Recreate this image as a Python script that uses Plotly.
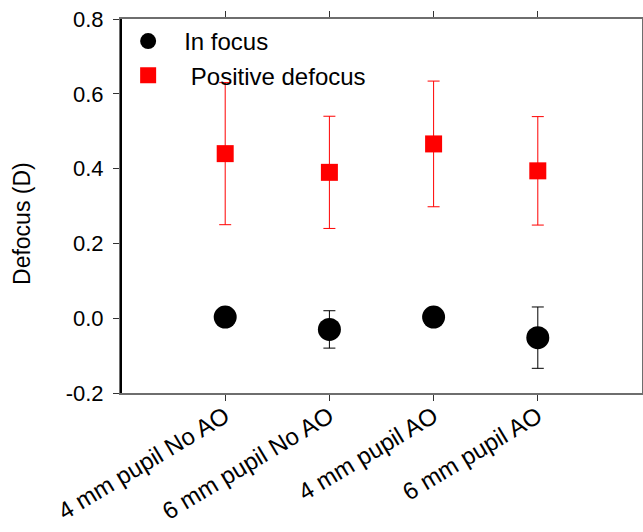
import plotly.graph_objects as go

categories = ["4 mm pupil No AO", "6 mm pupil No AO", "4 mm pupil AO", "6 mm pupil AO"]
x_pos = [1, 2, 3, 4]

in_focus = [0.003, -0.03, 0.003, -0.052]
in_focus_err = [0.0, 0.05, 0.0, 0.082]

pos_defocus = [0.44, 0.39, 0.466, 0.394]
pos_defocus_err = [0.19, 0.15, 0.168, 0.145]

y_ticks = [-0.2, 0.0, 0.2, 0.4, 0.6, 0.8]
y_tick_labels = ["-0.2", "0.0", "0.2", "0.4", "0.6", "0.8"]

FONT = "Liberation Sans, Arial, sans-serif"

fig = go.Figure()
fig.add_trace(go.Scatter(
    x=x_pos, y=in_focus, mode="markers", name="In focus",
    marker=dict(symbol="circle", size=23, color="black"),
    error_y=dict(type="data", array=in_focus_err, visible=True, color="black", thickness=1, width=6),
))
fig.add_trace(go.Scatter(
    x=x_pos, y=pos_defocus, mode="markers", name=" Positive defocus",
    marker=dict(symbol="square", size=17, color="red"),
    error_y=dict(type="data", array=pos_defocus_err, visible=True, color="red", thickness=1, width=6),
))

fig.update_layout(
    width=643, height=532,
    margin=dict(l=121, r=1, t=19, b=139),
    paper_bgcolor="white", plot_bgcolor="white",
    font=dict(family=FONT, color="black"),
    showlegend=True,
    legend=dict(x=-0.017, y=1.0, xanchor="left", yanchor="top", bgcolor="rgba(0,0,0,0)",
                font=dict(size=24), itemwidth=62, tracegroupgap=0),
    xaxis=dict(range=[0, 5], tickvals=x_pos, ticktext=categories, tickangle=-31,
               showgrid=False, zeroline=False, showline=True, linecolor="#6e6e6e", linewidth=2,
               mirror="ticks", ticks="outside", ticklen=6, tickcolor="#333",
               tickfont=dict(size=24), automargin=False, ticklabelstandoff=-8),
    yaxis=dict(range=[-0.2, 0.8], tickvals=y_ticks, ticktext=y_tick_labels,
               showgrid=False, zeroline=False, showline=True, linecolor="#6e6e6e", linewidth=2,
               mirror="ticks", ticks="outside", ticklen=6, tickcolor="#333",
               tickfont=dict(size=22), automargin=False, ticklabelstandoff=5),
    shapes=[dict(type="line", xref="paper", yref="paper", x0=0, x1=0, y0=0, y1=1,
                 line=dict(color="black", width=2))],
    annotations=[dict(text="Defocus (D)", xref="paper", yref="paper", x=-0.19, y=0.452,
                      xanchor="center", yanchor="middle", textangle=-90, showarrow=False,
                      font=dict(size=23, family=FONT, color="black"))],
)

fig.write_html("out.html", config={"displayModeBar": False},
               post_script="document.body.style.margin='0';document.body.style.padding='0';")
